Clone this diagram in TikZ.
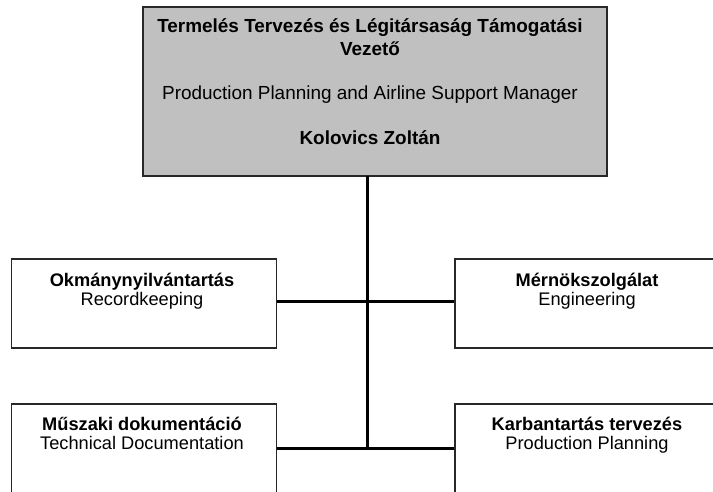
\documentclass[tikz,border=0pt]{standalone}
\usepackage{fontspec}
\setmainfont{Liberation Sans}
\definecolor{boxgray}{RGB}{192,192,192}
\definecolor{edge}{RGB}{40,40,40}
\begin{document}
\begin{tikzpicture}[x=1bp,y=-1bp,
  box/.style={draw=edge, line width=1.1bp, rectangle, inner sep=0pt},
  unitbox/.style={box, minimum width=265bp, minimum height=89bp},
  conn/.style={line width=3bp, line cap=butt},
  ttl/.style={font=\fontsize{19}{22}\selectfont, anchor=base, inner sep=0pt},
  txt/.style={font=\fontsize{18.3}{20}\selectfont, anchor=base, inner sep=0pt}]
\useasboundingbox (0,0) rectangle (713,492);
\clip (0,0) rectangle (713,492);
% boxes
\node[box, fill=boxgray, minimum width=464bp, minimum height=169bp] (mgr) at (375,91.5) {};
\node[unitbox] (rec) at (144,303.5) {};
\node[unitbox] (eng) at (587.5,303.5) {};
\node[unitbox] (tech) at (144,448.5) {};
\node[unitbox] (plan) at (587.5,448.5) {};
% connectors
\coordinate (top) at (367,176);
\coordinate (midx) at (367,301);
\coordinate (botx) at (367,448);
\draw[conn] (top) -- (botx);
\draw[conn] (rec.east |- midx) -- (eng.west |- midx);
\draw[conn] (tech.east |- botx) -- (plan.west |- botx);
% manager text
\node[ttl, font=\fontsize{19}{22}\selectfont\bfseries] (m1) at (370,33) {Termelés Tervezés és Légitársaság Támogatási};
\node[ttl, font=\fontsize{19}{22}\selectfont\bfseries] (m2) at (370,55.5) {Vezető};
\node[ttl] (m3) at (370,100) {Production Planning and Airline Support Manager};
\node[ttl, font=\fontsize{19}{22}\selectfont\bfseries] (m4) at (370,145) {Kolovics Zoltán};
% unit texts
\node[txt, font=\fontsize{18.3}{20}\selectfont\bfseries] (r1) at (142,286) {Okmánynyilvántartás};
\node[txt] (r2) at (142,305) {Recordkeeping};
\node[txt, font=\fontsize{18.3}{20}\selectfont\bfseries] (e1) at (587,286) {Mérnökszolgálat};
\node[txt] (e2) at (587,305) {Engineering};
\node[txt, font=\fontsize{18.3}{20}\selectfont\bfseries] (t1) at (142,430.5) {Műszaki dokumentáció};
\node[txt] (t2) at (142,449.5) {Technical Documentation};
\node[txt, font=\fontsize{18.3}{20}\selectfont\bfseries] (p1) at (587,430.5) {Karbantartás tervezés};
\node[txt] (p2) at (587,449.5) {Production Planning};
\end{tikzpicture}
\end{document}
